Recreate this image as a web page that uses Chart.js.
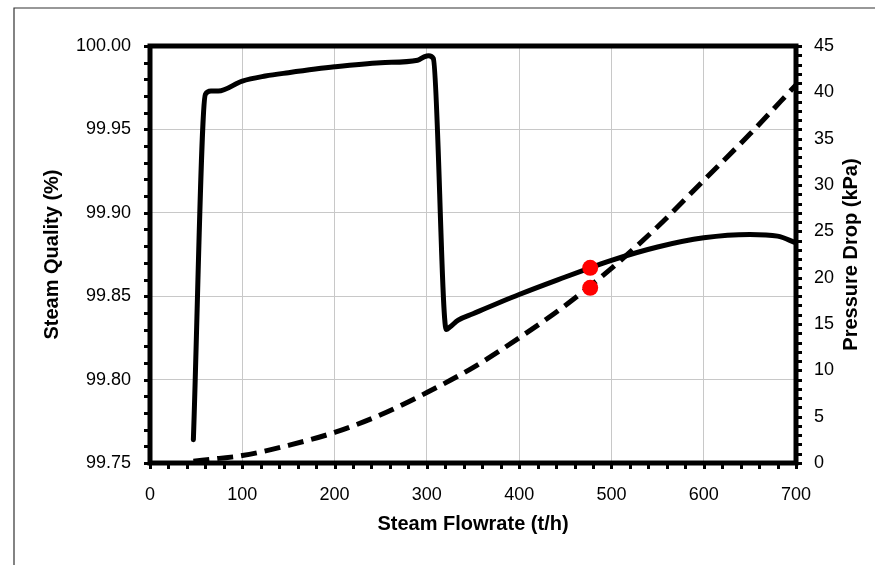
<!DOCTYPE html>
<html>
<head>
<meta charset="utf-8">
<script src="https://cdn.jsdelivr.net/npm/chart.js@4/dist/chart.umd.min.js"></script>
<style>
  html, body { margin: 0; padding: 0; background: #fff; }
  #wrap { width: 875px; height: 565px; position: relative; }
</style>
</head>
<body>
<div id="wrap"><canvas id="steamChart"></canvas></div>
<script>
// Steam quality (left axis) vs flowrate
const qualityFlow = [47, 60, 66, 74, 100, 125, 150, 200, 250, 290, 297, 302, 307, 321, 325, 334, 350, 400, 450, 477, 500, 550, 600, 650, 680, 700];
const quality = [99.764, 99.971, 99.973, 99.973, 99.979, 99.982, 99.984, 99.9875, 99.990, 99.9915, 99.9935, 99.9942, 99.9925, 99.830, 99.8315, 99.8357, 99.8395, 99.851, 99.8615, 99.867, 99.8715, 99.8795, 99.885, 99.887, 99.886, 99.882];

// Pressure drop (right axis) vs flowrate
const pressureFlow = [47, 75, 100, 150, 200, 250, 300, 350, 400, 450, 500, 550, 600, 650, 700];
const pressure = [0.2, 0.5, 0.8, 1.9, 3.3, 5.2, 7.6, 10.3, 13.5, 17.0, 21.0, 25.5, 30.5, 35.5, 40.8];

// Design point (red markers)
const designFlow = [477];
const designQuality = [99.867];
const designPressure = [18.9];

// Axis titles
const xTitle = 'Steam Flowrate (t/h)';
const yLeftTitle = 'Steam Quality (%)';
const yRightTitle = 'Pressure Drop (kPa)';

const toPoints = (xs, ys) => xs.map((x, i) => ({ x: x, y: ys[i] }));

const FONT = '"Liberation Sans", Arial, sans-serif';

// Cadre du graphique, petites graduations et titres des axes
const framePlugin = {
  id: 'framePlugin',
  beforeDatasetsDraw(chart) {
    const { ctx, chartArea: a, scales } = chart;
    ctx.save();
    ctx.strokeStyle = '#000';
    ctx.lineWidth = 3;
    ctx.beginPath();
    // left axis ticks every 0.01
    for (let i = 0; i <= 25; i++) {
      const y = Math.round(scales.y.getPixelForValue(99.75 + i * 0.01)) + 0.5;
      ctx.moveTo(a.left - 6, y); ctx.lineTo(a.left, y);
    }
    // right axis ticks every 1 kPa
    for (let i = 0; i <= 45; i++) {
      const y = Math.round(scales.y2.getPixelForValue(i)) + 0.5;
      ctx.moveTo(a.right, y); ctx.lineTo(a.right + 6, y);
    }
    // bottom axis ticks every 20 t/h
    for (let i = 0; i <= 35; i++) {
      const x = Math.round(scales.x.getPixelForValue(i * 20)) + 0.5;
      ctx.moveTo(x, a.bottom); ctx.lineTo(x, a.bottom + 6);
    }
    ctx.stroke();
    ctx.lineWidth = 5;
    ctx.strokeRect(a.left, a.top, a.right - a.left, a.bottom - a.top);
    ctx.restore();
  },
  afterDraw(chart) {
    const { ctx, chartArea: a } = chart;
    ctx.save();
    // outer border
    ctx.strokeStyle = '#333';
    ctx.lineWidth = 1.2;
    ctx.beginPath();
    ctx.moveTo(14, 565); ctx.lineTo(14, 8); ctx.lineTo(875, 8);
    ctx.stroke();

    ctx.fillStyle = '#000';
    ctx.font = 'bold 20px ' + FONT;
    ctx.textAlign = 'center';
    ctx.textBaseline = 'alphabetic';
    ctx.fillText(xTitle, (a.left + a.right) / 2, 530);

    const midY = (a.top + a.bottom) / 2;
    ctx.save();
    ctx.translate(58, midY);
    ctx.rotate(-Math.PI / 2);
    ctx.fillText(yLeftTitle, 0, 0);
    ctx.restore();

    ctx.save();
    ctx.translate(857, midY);
    ctx.rotate(-Math.PI / 2);
    ctx.fillText(yRightTitle, 0, 0);
    ctx.restore();
    ctx.restore();
  }
};

const ctx = document.getElementById('steamChart').getContext('2d');
const steamChart = new Chart(ctx, {
  type: 'line',
  data: {
    datasets: [
      {
        label: 'Design point quality',
        data: toPoints(designFlow, designQuality),
        yAxisID: 'y',
        showLine: false,
        pointRadius: 8,
        pointBackgroundColor: '#ff0000',
        pointBorderWidth: 0,
        order: 0
      },
      {
        label: 'Design point pressure',
        data: toPoints(designFlow, designPressure),
        yAxisID: 'y2',
        showLine: false,
        pointRadius: 8,
        pointBackgroundColor: '#ff0000',
        pointBorderWidth: 0,
        order: 0
      },
      {
        label: 'Steam Quality',
        data: toPoints(qualityFlow, quality),
        yAxisID: 'y',
        borderColor: '#000',
        borderWidth: 5,
        pointRadius: 0,
        cubicInterpolationMode: 'monotone',
        borderJoinStyle: 'round',
        borderCapStyle: 'round',
        fill: false,
        order: 2
      },
      {
        label: 'Pressure Drop',
        data: toPoints(pressureFlow, pressure),
        yAxisID: 'y2',
        borderColor: '#000',
        borderWidth: 5,
        borderDash: [16, 8],
        pointRadius: 0,
        cubicInterpolationMode: 'monotone',
        fill: false,
        order: 1
      }
    ]
  },
  options: {
    responsive: true,
    maintainAspectRatio: false,
    animation: false,
    layout: { padding: { top: 46, left: 0, right: 0, bottom: 0 } },
    plugins: {
      legend: { display: false },
      tooltip: { enabled: false }
    },
    scales: {
      x: {
        type: 'linear',
        min: 0,
        max: 700,
        afterFit: (scale) => { scale.height = 102; },
        border: { display: false },
        grid: { color: '#c8c8c8', lineWidth: 1, drawTicks: false },
        ticks: {
          stepSize: 100,
          padding: 21,
          color: '#000',
          font: { family: FONT, size: 18 }
        }
      },
      y: {
        position: 'left',
        min: 99.75,
        max: 100,
        afterFit: (scale) => { scale.width = 150; },
        border: { display: false },
        grid: { color: '#c8c8c8', lineWidth: 1, drawTicks: false },
        ticks: {
          stepSize: 0.05,
          padding: 19,
          color: '#000',
          font: { family: FONT, size: 18 },
          callback: (v) => Number(v).toFixed(2)
        }
      },
      y2: {
        position: 'right',
        min: 0,
        max: 45,
        afterFit: (scale) => { scale.width = 79; },
        border: { display: false },
        grid: { display: false, drawTicks: false },
        ticks: {
          stepSize: 5,
          padding: 18,
          color: '#000',
          font: { family: FONT, size: 18 }
        }
      }
    }
  },
  plugins: [framePlugin]
});
</script>
</body>
</html>
